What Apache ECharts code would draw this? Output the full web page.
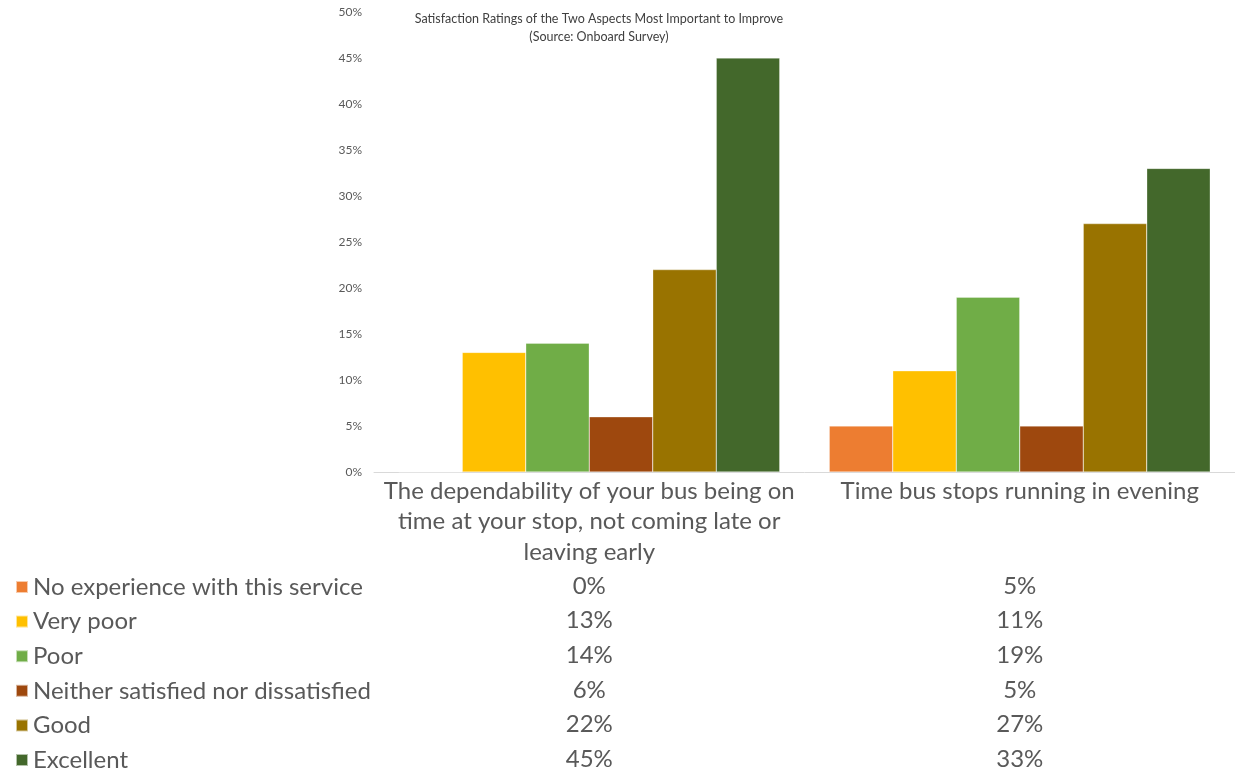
<!DOCTYPE html>
<html><head><meta charset="utf-8">
<script src="https://cdn.jsdelivr.net/npm/echarts@6/dist/echarts.min.js"></script>
<style>html,body{margin:0;padding:0;background:#fff;}#c{width:1235px;height:771px;}</style>
</head><body><div id="c"></div>
<script>
const categories = ["The dependability of your bus being on\ntime at your stop, not coming late or\nleaving early", "Time bus stops running in evening"];
const seriesNames = ["No experience with this service", "Very poor", "Poor", "Neither satisfied nor dissatisfied", "Good", "Excellent"];
const colors = ["#ED7D31", "#FFC000", "#70AD47", "#9E480E", "#997300", "#43682B"];
const noExperience = [0, 5];
const veryPoor = [13, 11];
const poor = [14, 19];
const neither = [6, 5];
const good = [22, 27];
const excellent = [45, 33];
const values = [noExperience, veryPoor, poor, neither, good, excellent];
const yTicks = [0, 5, 10, 15, 20, 25, 30, 35, 40, 45, 50];

const FONT = "Lato";
const grey = "#595959";
const chart = echarts.init(document.getElementById('c'));
const option = {
  animation: false,
  textStyle: {fontFamily: FONT},
  title: {
    text: "Satisfaction Ratings of the Two Aspects Most Important to Improve\n(Source: Onboard Survey)",
    left: 594, top: 5, textAlign: 'center',
    textStyle: {fontSize: 12.5, fontWeight: 'normal', color: '#404040', lineHeight: 18, fontFamily: FONT}
  },
  legend: {
    orient: 'vertical', left: 10, top: 570, height: 300,
    itemWidth: 12, itemHeight: 12, itemGap: 10.6,
    icon: 'rect',
    textStyle: {fontSize: 24, color: grey, lineHeight: 24, fontFamily: FONT},
    data: seriesNames
  },
  grid: {left: 374, top: 12, width: 865, height: 460, containLabel: false},
  xAxis: {
    type: 'category', data: categories,
    axisLine: {lineStyle: {color: '#D9D9D9', width: 1}},
    axisTick: {show: false},
    axisLabel: {fontSize: 24, color: grey, lineHeight: 30.5, margin: 4, fontFamily: FONT, interval: 0}
  },
  yAxis: {
    type: 'value', min: 0, max: 50, interval: 5,
    axisLine: {show: false}, axisTick: {show: false}, splitLine: {show: false},
    axisLabel: {fontSize: 12, color: grey, margin: 12, fontFamily: FONT,
      formatter: v => yTicks.includes(v) ? v + '%' : ''}
  },
  series: seriesNames.map((n, i) => ({
    name: n, type: 'bar', data: values[i],
    barGap: '0%', barCategoryGap: '11.5%',
    itemStyle: {color: colors[i], borderColor: 'rgba(255,255,255,0.6)', borderWidth: 0.5}
  }))
};
chart.setOption(option);

const rowY0 = 586, rowStep = 34.6;
const graphics = [];
values.forEach((arr, r) => {
  arr.forEach((v, c) => {
    const x = chart.convertToPixel({xAxisIndex: 0}, c);
    graphics.push({type: 'text', x: x, y: rowY0 + r * rowStep,
      style: {text: v + '%', font: '24px ' + FONT, fill: grey, textAlign: 'center', textVerticalAlign: 'middle'}});
  });
});
chart.setOption({graphic: graphics});
</script></body></html>
